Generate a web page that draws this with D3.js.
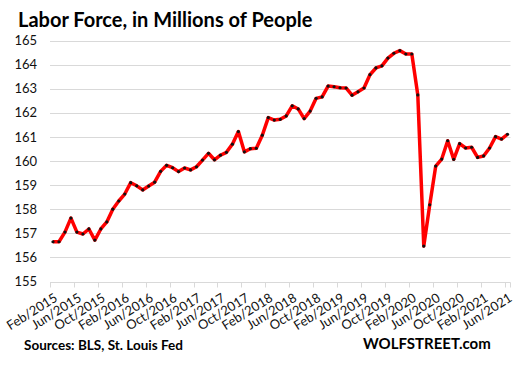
<!DOCTYPE html>
<html><head><meta charset="utf-8">
<script src="https://cdn.jsdelivr.net/npm/d3@7"></script>
<style>body{margin:0;background:#fff}svg{display:block}</style>
</head><body>
<script>
const title = "Labor Force, in Millions of People";
const startYear = 2015, startMonth = 1; // Feb 2015 (0-based month)
const values = [156.65,156.65,157.05,157.63,157.05,156.97,157.18,156.72,157.18,157.47,158.0,158.34,
158.63,159.1,158.97,158.8,158.96,159.12,159.57,159.82,159.72,159.56,159.71,159.63,
159.76,160.04,160.32,160.05,160.24,160.36,160.7,161.22,160.38,160.51,160.53,161.07,
161.8,161.7,161.73,161.87,162.29,162.16,161.76,162.07,162.6,162.66,163.11,163.08,
163.04,163.03,162.73,162.87,163.03,163.58,163.86,163.95,164.27,164.47,164.58,164.44,
164.44,162.74,156.47,158.18,159.79,160.08,160.84,160.07,160.72,160.54,160.57,160.15,
160.21,160.54,161.01,160.91,161.11];
const monthNames = ["Jan","Feb","Mar","Apr","May","Jun","Jul","Aug","Sep","Oct","Nov","Dec"];
const categories = values.map((v,i)=>{const m=(startMonth+i)%12, yr=startYear+Math.floor((startMonth+i)/12); return monthNames[m]+"/"+yr;});
const yTicks = [155,156,157,158,159,160,161,162,163,164,165];

const W=517,H=366;
const svg=d3.select("body").append("svg").attr("width",W).attr("height",H);
const mLeft=50,mRight=510.5,mTop=40.5,mBottom=281.5;
const x=d3.scaleBand().domain(categories).range([mLeft,mRight]).padding(0);
const y=d3.scaleLinear().domain([155,165]).range([mBottom,mTop]);
const cx=d=>x(d)+x.bandwidth()/2;
const FF="Lato, Open Sans, sans-serif";

svg.append("text").attr("x",18).attr("y",27).text(title)
 .attr("font-family",FF).attr("font-weight","bold").attr("font-size",20).attr("fill","#000");

// gridlines
svg.append("g").selectAll("line").data(yTicks.filter(t=>t>155)).join("line")
 .attr("x1",mLeft).attr("x2",mRight).attr("y1",d=>Math.round(y(d))+0.5).attr("y2",d=>Math.round(y(d))+0.5)
 .attr("stroke","#d9d9d9").attr("stroke-width",1);
// y labels
const yAxis=d3.axisLeft(y).tickValues(yTicks).tickSize(0).tickPadding(13).tickFormat(d3.format("d"));
const gy=svg.append("g").attr("transform",`translate(${mLeft},0)`).call(yAxis);
gy.select(".domain").remove();
gy.selectAll("text").attr("font-family",FF).attr("font-size",13).attr("fill","#111");

// x axis
const tickCats=categories.filter((d,i)=>i%4===0);
const gx=svg.append("g").attr("transform",`translate(0,${Math.round(mBottom)+0.5})`);
gx.append("line").attr("x1",mLeft).attr("x2",mRight).attr("stroke","#d9d9d9");
gx.selectAll("line.t").data(tickCats.concat([null])).join("line").attr("class","t")
 .attr("x1",d=>d?Math.round(x(d))+0.5:mRight).attr("x2",d=>d?Math.round(x(d))+0.5:mRight).attr("y1",0).attr("y2",5).attr("stroke","#d9d9d9");
gx.selectAll("text").data(tickCats).join("text")
 .attr("transform",d=>`translate(${cx(d)+3},${14}) rotate(-32)`)
 .attr("text-anchor","end").attr("dy","0.35em")
 .attr("font-family",FF).attr("font-size",13).attr("fill","#111")
 .text(d=>d);

// line
const line=d3.line().x((d,i)=>cx(categories[i])).y(d=>y(d));
svg.append("path").datum(values).attr("d",line).attr("fill","none").attr("stroke","#ff0000").attr("stroke-width",3.5).attr("stroke-linejoin","round");
svg.append("g").selectAll("circle").data(values).join("circle")
 .attr("cx",(d,i)=>cx(categories[i])).attr("cy",d=>y(d)).attr("r",1.6).attr("fill","#111");

svg.append("text").attr("x",24).attr("y",350).text("Sources: BLS, St. Louis Fed")
 .attr("font-family",FF).attr("font-weight","bold").attr("font-size",13.5).attr("fill","#000");
svg.append("text").attr("x",363).attr("y",349).text("WOLFSTREET.com")
 .attr("font-family",FF).attr("font-weight","bold").attr("font-size",15).attr("fill","#000");
</script>
</body></html>
